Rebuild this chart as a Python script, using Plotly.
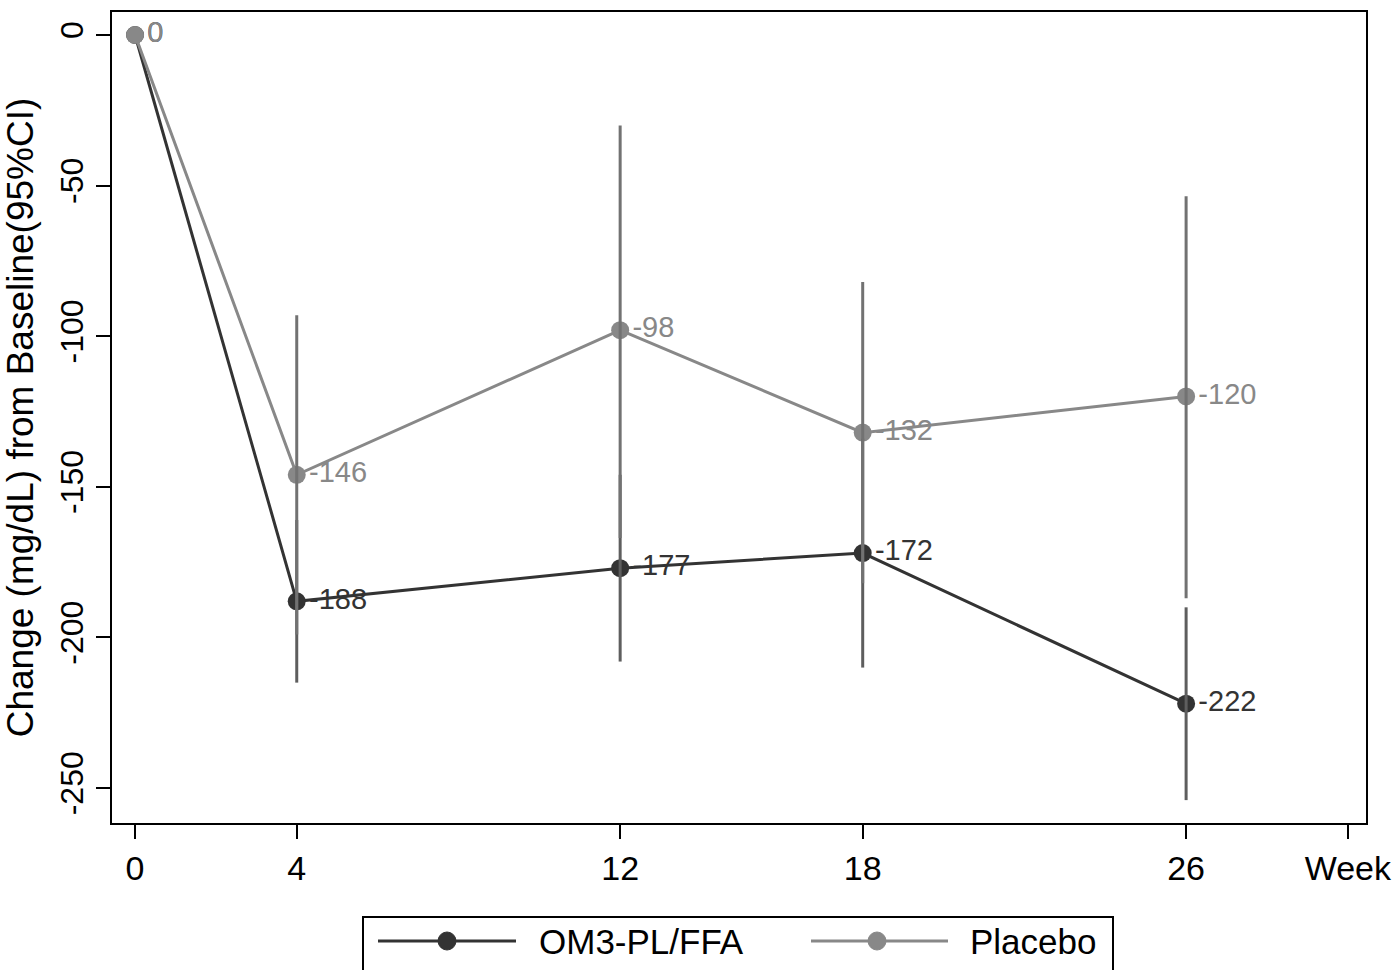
import plotly.graph_objects as go

# ---- data ----
weeks = [0, 4, 12, 18, 26]
om3_mean = [0, -188, -177, -172, -222]
placebo_mean = [0, -146, -98, -132, -120]
# 95% CI bounds (None = no bar)
om3_lower = [None, -215, -208, -210, -254]
om3_upper = [None, -161, -146, -134, -190]
placebo_lower = [None, -199, -167, -182, -187]
placebo_upper = [None, -93, -30, -82, -53.5]

x_tickvals = [0, 4, 12, 18, 26, 30]
x_ticktext = ["0", "4", "12", "18", "26", "Week"]
y_tickvals = [0, -50, -100, -150, -200, -250]
y_ticktext = ["0", "-50", "-100", "-150", "-200", "-250"]

OM3_COLOR = "#333333"
PL_COLOR = "#888888"
FONT = "Liberation Sans, Arial, sans-serif"


def ci_segments(xs, lo, hi):
    sx, sy = [], []
    for x, a, b in zip(xs, lo, hi):
        if a is None or b is None:
            continue
        sx += [x, x, None]
        sy += [a, b, None]
    return sx, sy


fig = go.Figure()

fig.add_trace(go.Scatter(
    x=weeks, y=om3_mean, name="OM3-PL/FFA", mode="lines+markers+text",
    line=dict(color=OM3_COLOR, width=3),
    marker=dict(color=OM3_COLOR, size=18),
    text=[str(v) for v in om3_mean], textposition="middle right",
    textfont=dict(color=OM3_COLOR, size=29, family=FONT),
    showlegend=False,
))
fig.add_trace(go.Scatter(
    x=weeks, y=placebo_mean, name="Placebo", mode="lines+markers+text",
    line=dict(color=PL_COLOR, width=3),
    marker=dict(color=PL_COLOR, size=18),
    text=[str(v) for v in placebo_mean], textposition="middle right",
    textfont=dict(color=PL_COLOR, size=29, family=FONT),
    showlegend=False,
))

ox, oy = ci_segments(weeks, om3_lower, om3_upper)
fig.add_trace(go.Scatter(x=ox, y=oy, mode="lines", line=dict(color="#5e5e5e", width=3),
                         showlegend=False, hoverinfo="skip"))
px_, py_ = ci_segments(weeks, placebo_lower, placebo_upper)
fig.add_trace(go.Scatter(x=px_, y=py_, mode="lines", line=dict(color="#727272", width=3),
                         showlegend=False, hoverinfo="skip"))

# ---- custom legend (box partly cut off at the bottom as in the reference) ----
W, H, L, T = 1398, 970, 112, 12
PW, PH = 1254, 811


def fx(p):
    return (p - L) / PW


def fy(p):
    return (T + PH - p) / PH


shapes = [
    dict(type="rect", xref="paper", yref="paper", x0=fx(363), x1=fx(1113), y0=fy(990), y1=fy(917),
         line=dict(color="black", width=2), fillcolor="white", layer="above"),
]
legend_items = [("OM3-PL/FFA", OM3_COLOR, 378, 516, 447, 537),
                ("Placebo", PL_COLOR, 811, 948, 877, 968)]
annotations = []
ly = fy(941)
for name, col, l0, l1, mc, tx in legend_items:
    shapes.append(dict(type="line", xref="paper", yref="paper", x0=fx(l0), x1=fx(l1), y0=ly, y1=ly,
                       line=dict(color=col, width=3), layer="above"))
    shapes.append(dict(type="circle", xref="paper", yref="paper", xsizemode="pixel", ysizemode="pixel",
                       xanchor=fx(mc), yanchor=ly, x0=-9, x1=9, y0=-9, y1=9,
                       fillcolor=col, line=dict(color=col, width=1), layer="above"))
    annotations.append(dict(text=name, xref="paper", yref="paper", x=fx(tx), y=ly,
                            xanchor="left", yanchor="middle", showarrow=False,
                            font=dict(size=35, color="black", family=FONT)))

fig.update_layout(
    width=W, height=H,
    margin=dict(l=L, r=W - L - PW, t=T, b=H - T - PH, autoexpand=False),
    paper_bgcolor="white", plot_bgcolor="white",
    font=dict(family=FONT, color="black"),
    shapes=shapes, annotations=annotations,
    xaxis=dict(range=[-0.57, 30.45], tickvals=x_tickvals, ticktext=x_ticktext, automargin=False,
               showgrid=False, zeroline=False, showline=True, linecolor="black", linewidth=2,
               mirror=True, ticks="outside", ticklen=14, tickwidth=2, tickcolor="black",
               tickfont=dict(size=34, family=FONT, color="black")),
    yaxis=dict(range=[-261.6, 7.64], tickvals=y_tickvals, ticktext=y_ticktext, automargin=False,
               showgrid=False, zeroline=False, showline=True, linecolor="black", linewidth=2,
               mirror=True, ticks="outside", ticklen=14, tickwidth=2, tickcolor="black",
               tickangle=-90, tickfont=dict(size=32, family=FONT, color="black"),
               title=dict(text="Change (mg/dL) from Baseline(95%CI)", standoff=10,
                          font=dict(size=37, family=FONT, color="black"))),
)

fig.write_html("out.html")
